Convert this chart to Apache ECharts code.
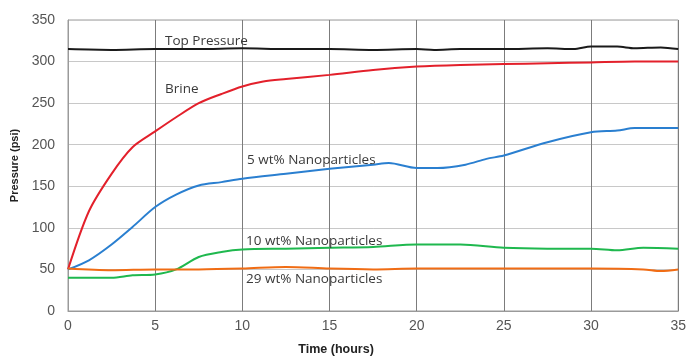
<!DOCTYPE html>
<html>
<head>
<meta charset="utf-8">
<script src="https://cdn.jsdelivr.net/npm/echarts@6/dist/echarts.min.js"></script>
<style>html,body{margin:0;padding:0;background:#fff;}#chart{width:689px;height:361px;}</style>
</head>
<body>
<div id="chart"></div>
<script>
// Data
var topTime   = [0, 2.5, 5, 7.5, 10, 12.5, 15, 17.5, 20, 21, 22.5, 25, 27.5, 29, 30, 31.5, 32.5, 34, 35];
var topVals   = [315, 314, 315, 315, 316, 315, 315, 314, 315, 314, 315, 315, 316, 315, 318, 318, 316, 317, 315];

var brineTime = [0, 1.2, 2.5, 3.7, 5, 6.2, 7.5, 8.8, 10, 11.2, 12.5, 15, 17.5, 20, 22.5, 25, 27.5, 30, 32.5, 35];
var brineVals = [50, 120, 165, 197, 216, 233, 250, 261, 270, 276, 279, 284, 290, 294, 296, 297, 298, 299, 300, 300];

var np5Time   = [0, 1.2, 2.5, 3.7, 5, 6.2, 7.5, 8.8, 10, 12.5, 15, 17.5, 18.4, 20, 21.2, 22.8, 24, 25, 27.5, 30, 31.5, 32.5, 35];
var np5Vals   = [50, 61, 80, 101, 125, 140, 151, 155, 159, 165, 171, 176, 178, 172, 172, 176, 183, 187, 203, 215, 217, 220, 220];

var np10Time  = [0, 2.5, 3.7, 5, 6.2, 7.5, 8.8, 10, 12.5, 15, 17.5, 20, 22.5, 25, 27.5, 30, 31.5, 33, 35];
var np10Vals  = [40, 40, 43, 44, 50, 65, 71, 74, 75, 76, 77, 80, 80, 76, 75, 75, 73, 76, 75];

var np29Time  = [0, 2.5, 5, 7.5, 10, 12.5, 15, 17.5, 20, 25, 30, 33, 34, 35];
var np29Vals  = [51, 49, 50, 50, 51, 53, 51, 50, 51, 51, 51, 50, 48, 50];

var xTicks = [0, 5, 10, 15, 20, 25, 30, 35];
var yTicks = [0, 50, 100, 150, 200, 250, 300, 350];

var seriesNames = ['Top Pressure', 'Brine', '5 wt% Nanoparticles', '10 wt% Nanoparticles', '29 wt% Nanoparticles'];
var seriesColors = ['#1a1a1a', '#e3202b', '#2a7fd0', '#1fb84e', '#f06c14'];

function pairs(t, v) { return t.map(function (x, i) { return [x, v[i]]; }); }
var allData = [pairs(topTime, topVals), pairs(brineTime, brineVals), pairs(np5Time, np5Vals), pairs(np10Time, np10Vals), pairs(np29Time, np29Vals)];

var chart = echarts.init(document.getElementById('chart'));
var labelFont = '"Open Sans", "Liberation Sans", sans-serif';
var tickFont = '"Liberation Sans", Arial, sans-serif';
function ann(text, x, y) {
  return { type: 'text', x: x, y: y, z: 10,
    style: { text: text, font: '13.5px ' + labelFont, fill: '#3a3a3a', textVerticalAlign: 'middle', verticalAlign: 'middle' } };
}
var option = {
  animation: false,
  backgroundColor: '#fff',
  grid: { left: 68, right: 8, top: 20, bottom: 48, show: true, borderColor: '#9a9a9a', borderWidth: 1 },
  xAxis: {
    type: 'value', min: 0, max: 35, interval: 5,
    name: 'Time (hours)', nameLocation: 'middle', nameGap: 32,
    nameTextStyle: { fontFamily: tickFont, fontWeight: 'bold', fontSize: 12.5, color: '#222', padding: [0, 74, 0, 0] },
    axisLine: { show: true, lineStyle: { color: '#9a9a9a' } },
    axisTick: { show: false },
    axisLabel: { fontFamily: tickFont, fontSize: 14, color: '#555', margin: 8,
      formatter: function (v) { return xTicks.indexOf(v) >= 0 ? String(v) : ''; } },
    splitLine: { show: true, lineStyle: { color: '#7c7c7c', width: 1 } }
  },
  yAxis: {
    type: 'value', min: 0, max: 350, interval: 50,
    name: 'Pressure (psi)', nameLocation: 'middle', nameGap: 46,
    nameTextStyle: { fontFamily: tickFont, fontWeight: 'bold', fontSize: 11, color: '#222' },
    axisLine: { show: true, lineStyle: { color: '#9a9a9a' } },
    axisTick: { show: false },
    axisLabel: { fontFamily: tickFont, fontSize: 14, color: '#555', margin: 13,
      formatter: function (v) { return yTicks.indexOf(v) >= 0 ? String(v) : ''; } },
    splitLine: { show: true, lineStyle: { color: '#c8c8c8', width: 1 } }
  },
  series: allData.map(function (d, i) {
    return {
      name: seriesNames[i], type: 'line', data: d, smooth: 0.3, showSymbol: false,
      lineStyle: { color: seriesColors[i], width: 2 }, z: 3
    };
  }),
  graphic: [
    ann('Top Pressure', 165, 41),
    ann('Brine', 165, 89),
    ann('5 wt% Nanoparticles', 247, 160),
    ann('10 wt% Nanoparticles', 246, 241),
    ann('29 wt% Nanoparticles', 246, 279)
  ]
};
chart.setOption(option);
</script>
</body>
</html>
